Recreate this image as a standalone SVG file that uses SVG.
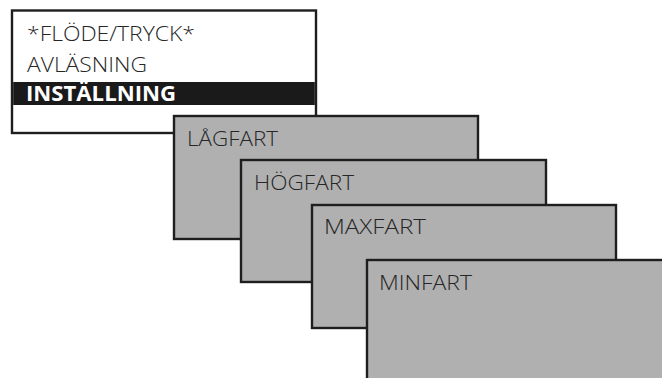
<svg xmlns="http://www.w3.org/2000/svg" width="662" height="378" viewBox="0 0 662 378">
  <style>
    .box { stroke: #1e1e1e; stroke-width: 2.4; }
    .menu { fill: #ffffff; }
    .panel { fill: #b0b0b0; }
    .t { font-family: "Open Sans", "Noto Sans", "Liberation Sans", sans-serif; font-size: 21px; font-weight: 300; fill: #262626; }
    .sel { fill: #ffffff; font-weight: bold; }
  </style>
  <rect x="0" y="0" width="662" height="378" fill="#ffffff"/>
  <g id="menu">
    <rect class="box menu" x="12" y="10.5" width="304" height="122.5"/>
    <rect x="13.2" y="82" width="301.6" height="23" fill="#1a1a1a"/>
    <text class="t" x="27" y="41" textLength="168" lengthAdjust="spacingAndGlyphs">*FLÖDE/TRYCK*</text>
    <text class="t" x="27" y="72" textLength="120" lengthAdjust="spacingAndGlyphs">AVLÄSNING</text>
    <text class="t sel" x="26" y="101" textLength="150" lengthAdjust="spacingAndGlyphs">INSTÄLLNING</text>
  </g>
  <g id="lagfart">
    <rect class="box panel" x="174" y="116" width="304" height="123"/>
    <text class="t" x="187" y="146" textLength="91" lengthAdjust="spacingAndGlyphs">LÅGFART</text>
  </g>
  <g id="hogfart">
    <rect class="box panel" x="241" y="160" width="305" height="122"/>
    <text class="t" x="254" y="190" textLength="100" lengthAdjust="spacingAndGlyphs">HÖGFART</text>
  </g>
  <g id="maxfart">
    <rect class="box panel" x="312" y="205" width="304" height="123"/>
    <text class="t" x="324" y="234" textLength="102" lengthAdjust="spacingAndGlyphs">MAXFART</text>
  </g>
  <g id="minfart">
    <rect class="box panel" x="367" y="260" width="304" height="123"/>
    <text class="t" x="379" y="290" textLength="93" lengthAdjust="spacingAndGlyphs">MINFART</text>
  </g>
</svg>
